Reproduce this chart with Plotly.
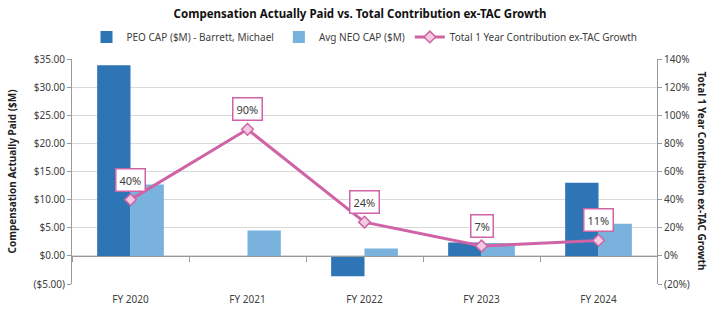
import plotly.graph_objects as go

categories = ["FY 2020", "FY 2021", "FY 2022", "FY 2023", "FY 2024"]
peo_cap = [33.9, 0.0, -3.6, 2.4, 13.0]
neo_cap = [12.7, 4.5, 1.3, 2.3, 5.7]
contrib_growth = [40, 90, 24, 7, 11]

left_ticks = [-5, 0, 5, 10, 15, 20, 25, 30, 35]
left_text = ["($5.00)", "$0.00", "$5.00", "$10.00", "$15.00", "$20.00", "$25.00", "$30.00", "$35.00"]
right_ticks = [-20, 0, 20, 40, 60, 80, 100, 120, 140]
right_text = ["(20%)", "0%", "20%", "40%", "60%", "80%", "100%", "120%", "140%"]

FONT = "Noto Sans"
TXT = "#404040"
PINK = "#cf63a6"

fig = go.Figure()
fig.add_trace(go.Bar(x=categories, y=peo_cap, name="PEO CAP ($M) - Barrett, Michael",
                     marker=dict(color="#2e75b6", line=dict(width=0))))
fig.add_trace(go.Bar(x=categories, y=neo_cap, name="Avg NEO CAP ($M)",
                     marker=dict(color="#7ab2de", line=dict(width=0))))
fig.add_trace(go.Scatter(x=categories, y=contrib_growth, yaxis="y2", name="Total 1 Year Contribution ex-TAC Growth",
                         mode="lines+markers", line=dict(color=PINK, width=3),
                         marker=dict(symbol="diamond", size=9, color="#f4c9e2", line=dict(color=PINK, width=1.5))))
# helper trace for zero-line tick axis
fig.add_trace(go.Scatter(x=categories, y=[None]*5, xaxis="x2", showlegend=False, hoverinfo="skip"))

for c, v in zip(categories, contrib_growth):
    fig.add_annotation(x=c, y=v, yref="y2", text=f"{v}%", showarrow=False, yshift=20,
                       bgcolor="white", bordercolor=PINK, borderwidth=1.5, borderpad=3,
                       font=dict(family=FONT, size=11, color=TXT))

fig.add_annotation(x=-0.1026, y=0.5, xref="paper", yref="paper", xanchor="center", yanchor="middle",
                   text="<b>Compensation Actually Paid ($M)</b>",
                   textangle=-90, showarrow=False, font=dict(family=FONT, size=10, color="#222"))
fig.add_annotation(x=1.0786, y=0.5, xref="paper", yref="paper", xanchor="center", yanchor="middle",
                   text="<b>Total 1 Year Contribution ex-TAC Growth</b>",
                   textangle=90, showarrow=False, font=dict(family=FONT, size=10, color="#222"))

fig.update_layout(
    width=720, height=321,
    margin=dict(l=72, r=63, t=59, b=37, autoexpand=False),
    paper_bgcolor="white", plot_bgcolor="white",
    barmode="group", bargap=0.43, bargroupgap=0,
    font=dict(family=FONT, size=10, color=TXT),
    title=dict(text="<b>Compensation Actually Paid vs. Total Contribution ex-TAC Growth</b>",
               x=0.5, xanchor="center", y=0.955, yanchor="middle",
               font=dict(family=FONT, size=11.5, color="#111")),
    legend=dict(orientation="h", x=0.5, xanchor="center", y=1.098, yanchor="middle",
                font=dict(family=FONT, size=10, color=TXT), itemwidth=30, tracegroupgap=0),
    xaxis=dict(type="category", categoryarray=categories, range=[-0.5, 4.5],
               showline=False, ticks="", showgrid=False, tickfont=dict(size=10, color=TXT),
               ticklabelstandoff=8),
    xaxis2=dict(type="category", categoryarray=categories, range=[-0.5, 4.5], overlaying="x",
                anchor="free", position=0.125, showline=True, linecolor="#9a9a9a", linewidth=1,
                ticks="outside", tickson="boundaries", ticklen=5, tickcolor="#9a9a9a",
                showticklabels=False, showgrid=False),
    yaxis=dict(range=[-5, 35], tickvals=left_ticks, ticktext=left_text, showgrid=True,
               gridcolor="#d9d9d9", gridwidth=1, showline=True, linecolor="#9a9a9a",
               ticks="outside", ticklen=4, tickcolor="#9a9a9a", zeroline=False,
               tickfont=dict(size=10, color=TXT)),
    yaxis2=dict(range=[-20, 140], tickvals=right_ticks, ticktext=right_text, overlaying="y", side="right",
                showgrid=False, showline=True, linecolor="#9a9a9a", ticks="outside", ticklen=4,
                tickcolor="#9a9a9a", zeroline=False, tickfont=dict(size=10, color=TXT)),
)

fig.write_html("out.html")
